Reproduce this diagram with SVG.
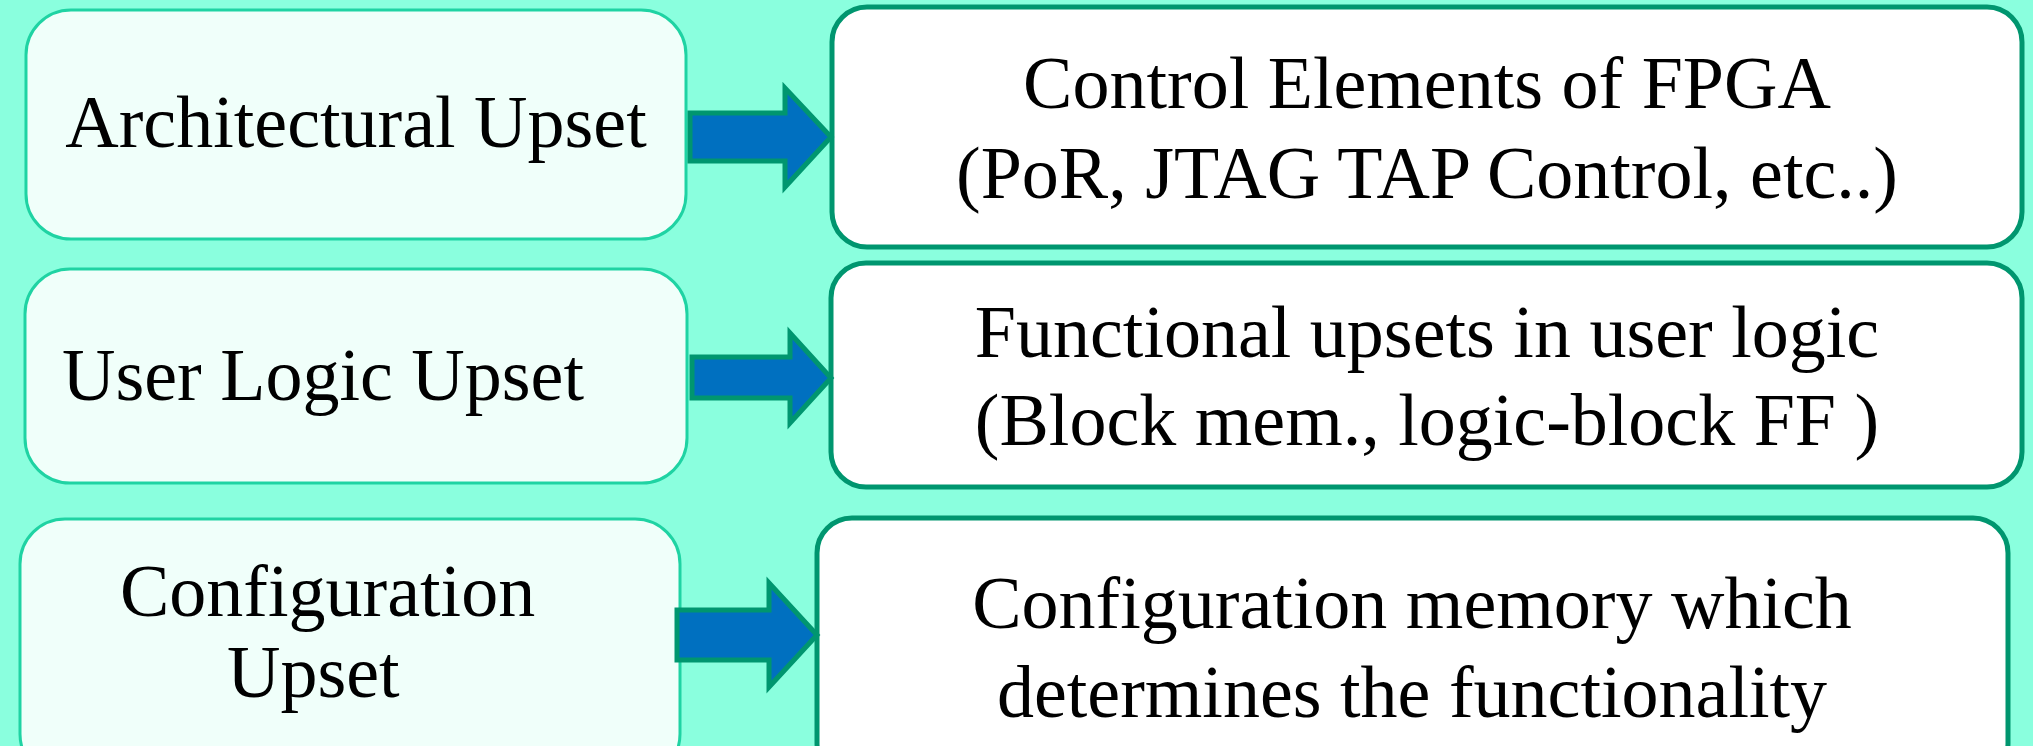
<svg xmlns="http://www.w3.org/2000/svg" width="2033" height="746" viewBox="0 0 2033 746">
<style>
.src{fill:#F0FFFA;stroke:#1FD3A3;stroke-width:3}
.dst{fill:#FFFFFF;stroke:#00966F;stroke-width:5}
.arr{fill:#0070C0;stroke:#00966F;stroke-width:5;stroke-linejoin:miter}
text{font-family:"Liberation Serif","Times New Roman",serif;font-size:74px;fill:#000}
.c{text-anchor:middle}
</style>
<rect x="0" y="0" width="2033" height="746" fill="#8AFFDE"/>
<g id="node-architectural">
<rect class="src" x="26" y="10" width="660" height="229" rx="45" ry="45"/>
<text class="c" x="356" y="147">Architectural Upset</text>
</g>
<g id="node-userlogic">
<rect class="src" x="25" y="269" width="662" height="214" rx="45" ry="45"/>
<text x="62" y="400">User Logic Upset</text>
</g>
<g id="node-configuration">
<rect class="src" x="20" y="519" width="660" height="260" rx="45" ry="45"/>
<text x="120" y="616">Configuration</text>
<text x="227" y="697">Upset</text>
</g>
<g id="node-control">
<rect class="dst" x="832" y="7" width="1190" height="240" rx="35" ry="35"/>
<text class="c" x="1427" y="108">Control Elements of FPGA</text>
<text class="c" x="1427" y="198">(PoR, JTAG TAP Control, etc..)</text>
</g>
<g id="node-functional">
<rect class="dst" x="831" y="263" width="1191" height="224" rx="35" ry="35"/>
<text class="c" x="1427" y="357">Functional upsets in user logic</text>
<text class="c" x="1427" y="445">(Block mem., logic-block FF )</text>
</g>
<g id="node-configmem">
<rect class="dst" x="817" y="518" width="1191" height="260" rx="35" ry="35"/>
<text class="c" x="1412" y="628">Configuration memory which</text>
<text class="c" x="1412" y="717">determines the functionality</text>
</g>
<g id="connectors">
<polygon class="arr" points="690,113 785,113 785,88 831,137 785,187 785,161 690,161"/>
<polygon class="arr" points="692,357 790,357 790,333 831,378 790,423 790,398 692,398"/>
<polygon class="arr" points="677,610 769,610 769,583 817,635 769,687 769,660 677,660"/>
</g>
</svg>
